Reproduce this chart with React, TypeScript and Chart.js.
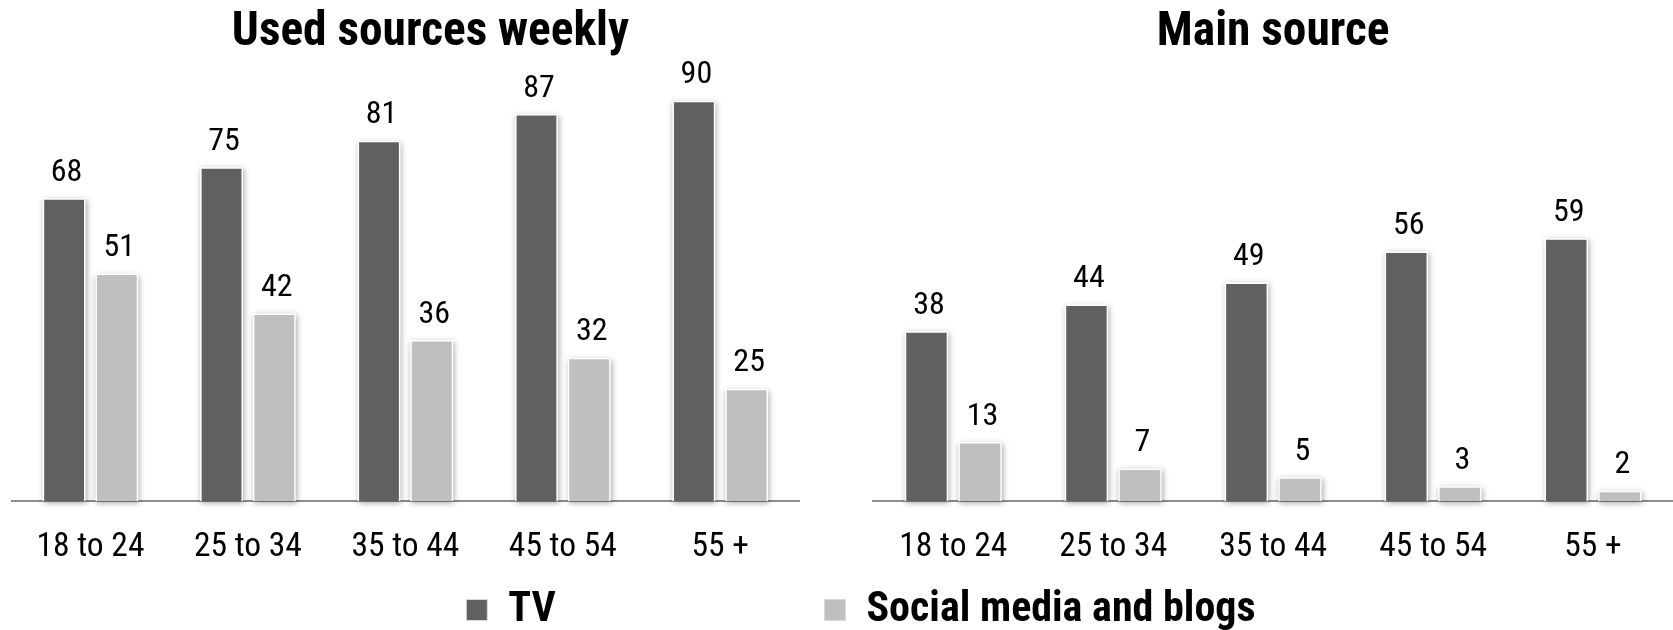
import React, { useEffect, useRef } from 'react';
import { Chart, registerables } from 'chart.js';

Chart.register(...registerables);

const categories = ['18 to 24', '25 to 34', '35 to 44', '45 to 54', '55 +'];
const seriesNames = ['TV', 'Social media and blogs'];
const panelTitles = ['Used sources weekly', 'Main source'];
const weeklyTV = [68, 75, 81, 87, 90];
const weeklySocial = [51, 42, 36, 32, 25];
const mainTV = [38, 44, 49, 56, 59];
const mainSocial = [13, 7, 5, 3, 2];

const TV_COLOR = '#606060';
const SOCIAL_COLOR = '#bfbfbf';
const AXIS_COLOR = '#8c8c8c';
const FONT = "'Roboto Condensed', 'Liberation Sans', sans-serif";

const shadowPlugin = {
  id: 'barShadow',
  beforeDatasetsDraw(chart: any) {
    const ctx = chart.ctx;
    chart.data.datasets.forEach((_ds: any, i: number) => {
      const meta = chart.getDatasetMeta(i);
      if (!meta.visible) return;
      meta.data.forEach((el: any) => {
        const { x, y, base, width } = el.getProps(['x', 'y', 'base', 'width'], true);
        ctx.save();
        ctx.shadowColor = 'rgba(0,0,0,0.35)';
        ctx.shadowBlur = 6;
        ctx.shadowOffsetX = 1;
        ctx.shadowOffsetY = 2;
        ctx.fillStyle = '#ffffff';
        ctx.fillRect(x - width / 2 - 1.5, y - 1.5, width + 3, base - y + 1.5);
        ctx.restore();
      });
    });
  },
};

const valueLabelPlugin = {
  id: 'valueLabels',
  afterDatasetsDraw(chart: any) {
    const ctx = chart.ctx;
    ctx.save();
    ctx.font = `32px ${FONT}`;
    ctx.fillStyle = '#000000';
    ctx.textAlign = 'center';
    ctx.textBaseline = 'alphabetic';
    chart.data.datasets.forEach((ds: any, i: number) => {
      const meta = chart.getDatasetMeta(i);
      if (!meta.visible) return;
      meta.data.forEach((el: any, j: number) => {
        const { x, y } = el.getProps(['x', 'y'], true);
        ctx.fillText(String(ds.data[j]), x + 2.5, y - 18.9);
      });
    });
    ctx.restore();
  },
};

function panelConfig(title: string, tv: number[], social: number[], left: boolean): any {
  const scales: any = {
    x: {
      grid: { display: false, drawTicks: false },
      border: { display: true, color: AXIS_COLOR, width: 2 },
      ticks: { color: '#000000', font: { family: FONT, size: 33.5 }, padding: 26.3 },
      z: 1,
      afterFit: (s: any) => {
        s.height = 66;
      },
    },
    y: {
      type: 'linear',
      min: 0,
      max: 100,
      display: false,
    },
  };
  if (left) {
    scales.y.display = true;
    scales.y.ticks = { display: false };
    scales.y.grid = { display: false };
    scales.y.border = { display: false };
    scales.y.afterFit = (s: any) => {
      s.width = 11.75;
    };
    scales.y2 = {
      type: 'linear',
      position: 'right',
      ticks: { display: false },
      grid: { display: false },
      border: { display: false },
      afterFit: (s: any) => {
        s.width = 62;
      },
    };
  }
  return {
    type: 'bar',
    data: {
      labels: categories,
      datasets: [
        { label: seriesNames[0], data: tv, backgroundColor: TV_COLOR, borderWidth: 0 },
        { label: seriesNames[1], data: social, backgroundColor: SOCIAL_COLOR, borderWidth: 0 },
      ],
    },
    options: {
      responsive: false,
      animation: false,
      layout: { padding: { left: left ? 0 : 12.3, right: 0, top: 0, bottom: 8 } },
      datasets: { bar: { categoryPercentage: 0.67, barPercentage: 0.755 } },
      plugins: {
        legend: { display: false },
        tooltip: { enabled: false },
        title: {
          display: true,
          text: title,
          color: '#000000',
          font: { family: FONT, size: 47.4, weight: 'bold', lineHeight: 1 },
          padding: { top: 9.9, bottom: 0.7 },
        },
      },
      scales,
    },
    plugins: [shadowPlugin, valueLabelPlugin],
  };
}

function legendConfig(index: number): any {
  const colors = [TV_COLOR, SOCIAL_COLOR];
  return {
    type: 'bar',
    data: {
      labels: categories,
      datasets: [{ label: seriesNames[index], data: [], backgroundColor: colors[index], borderColor: '#d9d9d9', borderWidth: 1 }],
    },
    options: {
      responsive: false,
      animation: false,
      events: [],
      layout: { padding: 0 },
      scales: { x: { display: false }, y: { display: false } },
      plugins: {
        tooltip: { enabled: false },
        legend: {
          display: true,
          position: 'top',
          labels: {
            boxWidth: 21,
            boxHeight: 21,
            padding: 10,
            color: '#000000',
            font: { family: FONT, size: 42, weight: 'bold' },
          },
        },
      },
    },
  };
}

export default function App() {
  const leftRef = useRef<HTMLCanvasElement>(null);
  const rightRef = useRef<HTMLCanvasElement>(null);
  const legendTvRef = useRef<HTMLCanvasElement>(null);
  const legendSocialRef = useRef<HTMLCanvasElement>(null);

  useEffect(() => {
    const charts: Chart[] = [];
    if (leftRef.current) charts.push(new Chart(leftRef.current, panelConfig(panelTitles[0], weeklyTV, weeklySocial, true)));
    if (rightRef.current) charts.push(new Chart(rightRef.current, panelConfig(panelTitles[1], mainTV, mainSocial, false)));
    if (legendTvRef.current) charts.push(new Chart(legendTvRef.current, legendConfig(0)));
    if (legendSocialRef.current) charts.push(new Chart(legendSocialRef.current, legendConfig(1)));
    return () => {
      charts.forEach((c) => c.destroy());
    };
  }, []);

  return (
    <div style={{ position: 'absolute', left: 0, top: 0, width: 1673, height: 630, background: '#ffffff', overflow: 'hidden' }}>
      <canvas ref={leftRef} width={861} height={575} style={{ position: 'absolute', left: 0, top: 0 }} />
      <canvas ref={rightRef} width={812} height={575} style={{ position: 'absolute', left: 861, top: 0 }} />
      <canvas ref={legendTvRef} width={200} height={150} style={{ position: 'absolute', left: 411, top: 579, pointerEvents: 'none' }} />
      <canvas ref={legendSocialRef} width={520} height={150} style={{ position: 'absolute', left: 780, top: 579, pointerEvents: 'none' }} />
    </div>
  );
}
